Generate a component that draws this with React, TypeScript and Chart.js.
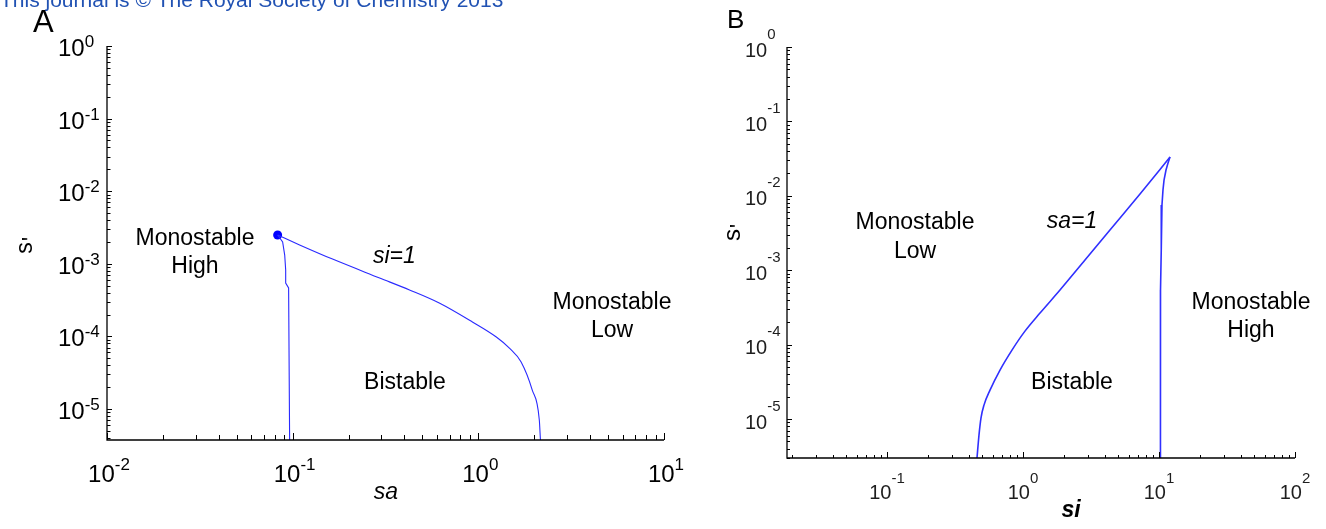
import React, { useEffect, useRef } from 'react';
import { Chart, registerables } from 'chart.js';
Chart.register(...registerables);

const HEADER = 'This journal is © The Royal Society of Chemistry 2013';

// Panel A: si = 1 boundary curves (sa vs s')
const saUpper = [0.083, 0.109, 0.164, 0.294, 0.426, 0.616, 0.929, 1.25, 1.47, 1.7, 1.95, 2.13, 2.16];
const sUpper = [2.49e-3, 1.82e-3, 1.16e-3, 6.37e-4, 4.36e-4, 2.88e-4, 1.58e-4, 9.8e-5, 6.9e-5, 4.44e-5, 1.83e-5, 7.05e-6, 3.74e-6];
const saLower = [0.083, 0.0883, 0.0906, 0.0917, 0.0917, 0.0951, 0.0963];
const sLower = [2.49e-3, 2.0e-3, 1.32e-3, 8.2e-4, 5.44e-4, 4.64e-4, 3.74e-6];
const cuspA = { sa: 0.083, s: 2.49e-3 };

// Panel B: sa = 1 boundary curve (si vs s'), rising branch then falling branch
const siRise = [0.459, 0.4747, 0.491, 0.5166, 0.572, 0.6776, 0.83, 1.034, 1.334, 1.871, 2.857, 4.36, 7.25, 12.05];
const sRise = [3e-6, 6.1e-6, 1.03e-5, 1.54e-5, 2.45e-5, 4.56e-5, 8.46e-5, 1.52e-4, 2.66e-4, 5.42e-4, 1.37e-3, 3.47e-3, 1.06e-2, 3.32e-2];
const siFall = [12.05, 11.65, 11.26, 10.89, 10.7, 10.52, 10.43, 10.35, 10.26, 10.25];
const sFall = [3.32e-2, 2.76e-2, 2.22e-2, 1.63e-2, 1.2e-2, 7.52e-3, 4.05e-3, 1.87e-3, 5.42e-4, 3e-6];

// Tick exponents (labels 10^e)
const aXExps = ['-2', '-1', '0', '1'];
const aYExps = ['0', '-1', '-2', '-3', '-4', '-5'];
const bXExps = ['-1', '0', '1', '2'];
const bYExps = ['0', '-1', '-2', '-3', '-4', '-5'];

const FF = '"Liberation Sans", Arial, Helvetica, sans-serif';

type TextItem = { text: string; x: number; y: number; font: string; align: CanvasTextAlign; color?: string };

interface PanelCfg {
  offsetX: number;
  xExps: string[];
  yExps: string[];
  mainFont: string;
  supFont: string;
  labelColor: string;
  xLabelBase: number;
  xLabelShift: number;
  xRaise: number;
  yLabelLeft: number;
  yLabelShift: number;
  yRaise: number;
  xMajor: number;
  xMinor: number;
  yMajor: number;
  yMinor: number;
  axisWidth: number;
  texts: TextItem[];
  yTitle: { x: number; y: number; font: string; aposFont: string; aposDx: number; aposDy: number };
}

function drawPow(ctx: CanvasRenderingContext2D, exp: string, x: number, baseline: number, cfg: PanelCfg, center: boolean) {
  ctx.font = cfg.mainFont;
  const w1 = ctx.measureText('10').width;
  ctx.font = cfg.supFont;
  const w2 = ctx.measureText(exp).width;
  const start = center ? x - (w1 + w2) / 2 : x;
  ctx.textAlign = 'left';
  ctx.textBaseline = 'alphabetic';
  ctx.fillStyle = cfg.labelColor;
  ctx.font = cfg.mainFont;
  ctx.fillText('10', start, baseline);
  ctx.font = cfg.supFont;
  ctx.fillText(exp, start + w1, baseline - (center ? cfg.xRaise : cfg.yRaise));
}

function makePlugin(cfg: PanelCfg) {
  return {
    id: 'matlabAxes' + cfg.offsetX,
    afterDraw(chart: any) {
      const ctx: CanvasRenderingContext2D = chart.ctx;
      const xs = chart.scales.x;
      const ys = chart.scales.y;
      const { left, right, top, bottom } = chart.chartArea;
      const ox = cfg.offsetX;
      ctx.save();
      ctx.strokeStyle = '#000';
      ctx.lineWidth = 1;
      // x ticks (inward)
      for (let e = Math.floor(Math.log10(xs.min)); e <= Math.ceil(Math.log10(xs.max)); e++) {
        for (let m = 1; m <= 9; m++) {
          const v = m * Math.pow(10, e);
          if (v < xs.min * 0.9999 || v > xs.max * 1.0001) continue;
          const px = Math.round(xs.getPixelForValue(v)) + 0.5;
          const len = m === 1 ? cfg.xMajor : cfg.xMinor;
          ctx.beginPath();
          ctx.moveTo(px, bottom);
          ctx.lineTo(px, bottom - len);
          ctx.stroke();
        }
      }
      // y ticks (inward)
      for (let e = Math.floor(Math.log10(ys.min)); e <= Math.ceil(Math.log10(ys.max)); e++) {
        for (let m = 1; m <= 9; m++) {
          const v = m * Math.pow(10, e);
          if (v < ys.min * 0.9999 || v > ys.max * 1.0001) continue;
          const py = Math.round(ys.getPixelForValue(v)) + 0.5;
          const len = m === 1 ? cfg.yMajor : cfg.yMinor;
          ctx.beginPath();
          ctx.moveTo(left, py);
          ctx.lineTo(left + len, py);
          ctx.stroke();
        }
      }
      // axis lines
      ctx.lineWidth = cfg.axisWidth;
      ctx.beginPath();
      ctx.moveTo(left, top);
      ctx.lineTo(left, bottom);
      ctx.lineTo(right, bottom);
      ctx.stroke();
      // tick labels
      cfg.xExps.forEach((e) => {
        const px = xs.getPixelForValue(Math.pow(10, Number(e)));
        drawPow(ctx, e, px + cfg.xLabelShift, cfg.xLabelBase, cfg, true);
      });
      cfg.yExps.forEach((e) => {
        const py = ys.getPixelForValue(Math.pow(10, Number(e)));
        drawPow(ctx, e, cfg.yLabelLeft - ox, py + cfg.yLabelShift, cfg, false);
      });
      // y title s'
      const t = cfg.yTitle;
      ctx.save();
      ctx.translate(t.x - ox, t.y);
      ctx.rotate(-Math.PI / 2);
      ctx.fillStyle = '#000';
      ctx.textBaseline = 'alphabetic';
      ctx.textAlign = 'left';
      ctx.font = t.font;
      const ws = ctx.measureText('s').width;
      ctx.fillText('s', -ws / 2 - 2, 0);
      ctx.font = t.aposFont;
      ctx.fillText("'", ws / 2 - 2 + t.aposDx, t.aposDy);
      ctx.restore();
      // free texts
      cfg.texts.forEach((it) => {
        ctx.font = it.font;
        ctx.fillStyle = it.color || '#000';
        ctx.textAlign = it.align;
        ctx.textBaseline = 'alphabetic';
        ctx.fillText(it.text, it.x - ox, it.y);
      });
      ctx.restore();
    },
  };
}

const cfgA: PanelCfg = {
  offsetX: 0,
  xExps: aXExps,
  yExps: aYExps,
  mainFont: `24px ${FF}`,
  supFont: `17px ${FF}`,
  labelColor: '#000',
  xLabelBase: 482,
  xLabelShift: 2,
  xRaise: 12,
  yLabelLeft: 58,
  yLabelShift: 10,
  yRaise: 9,
  xMajor: 7,
  xMinor: 5,
  yMajor: 5,
  yMinor: 3.5,
  axisWidth: 1.3,
  yTitle: { x: 32, y: 246, font: `23px ${FF}`, aposFont: `23px ${FF}`, aposDx: 1, aposDy: 7 },
  texts: [
    { text: HEADER, x: 0, y: 7, font: `21px ${FF}`, align: 'left', color: '#2152b3' },
    { text: 'A', x: 33, y: 31.5, font: `31px ${FF}`, align: 'left' },
    { text: 'Monostable', x: 195, y: 245, font: `23px ${FF}`, align: 'center' },
    { text: 'High', x: 195, y: 273, font: `23px ${FF}`, align: 'center' },
    { text: 'si=1', x: 373, y: 263, font: `italic 23px ${FF}`, align: 'left' },
    { text: 'Monostable', x: 612, y: 309, font: `23px ${FF}`, align: 'center' },
    { text: 'Low', x: 612, y: 337, font: `23px ${FF}`, align: 'center' },
    { text: 'Bistable', x: 405, y: 389, font: `23px ${FF}`, align: 'center' },
    { text: 'sa', x: 386, y: 499, font: `italic 23px ${FF}`, align: 'center' },
  ],
};

const cfgB: PanelCfg = {
  offsetX: 680,
  xExps: bXExps,
  yExps: bYExps,
  mainFont: `20px ${FF}`,
  supFont: `15px ${FF}`,
  labelColor: '#1e1e1e',
  xLabelBase: 499,
  xLabelShift: 0,
  xRaise: 16,
  yLabelLeft: 745,
  yLabelShift: 9.5,
  yRaise: 18,
  xMajor: 6,
  xMinor: 3,
  yMajor: 5,
  yMinor: 3,
  axisWidth: 1.3,
  yTitle: { x: 740, y: 233, font: `24px ${FF}`, aposFont: `22px ${FF}`, aposDx: 1, aposDy: 5 },
  texts: [
    { text: 'B', x: 727, y: 28, font: `26px ${FF}`, align: 'left' },
    { text: 'Monostable', x: 915, y: 229, font: `23px ${FF}`, align: 'center' },
    { text: 'Low', x: 915, y: 258, font: `23px ${FF}`, align: 'center' },
    { text: 'sa=1', x: 1072, y: 228, font: `italic 23px ${FF}`, align: 'center' },
    { text: 'Monostable', x: 1251, y: 309, font: `23px ${FF}`, align: 'center' },
    { text: 'High', x: 1251, y: 337, font: `23px ${FF}`, align: 'center' },
    { text: 'Bistable', x: 1072, y: 389, font: `23px ${FF}`, align: 'center' },
    { text: 'si', x: 1071, y: 517, font: `italic bold 23px ${FF}`, align: 'center' },
  ],
};

function scaleOpts(min: number, max: number, fit: (s: any) => void) {
  return {
    type: 'logarithmic' as const,
    min,
    max,
    grid: { display: false },
    border: { display: false },
    ticks: { display: false },
    title: { display: false },
    afterFit: fit,
  };
}

export default function App() {
  const refA = useRef<HTMLCanvasElement>(null);
  const refB = useRef<HTMLCanvasElement>(null);

  useEffect(() => {
    const lineA = '#2a2aff';
    const chartA = new Chart(refA.current!, {
      type: 'scatter',
      data: {
        datasets: [
          {
            data: saUpper.map((x, i) => ({ x, y: sUpper[i] })),
            showLine: true,
            borderColor: lineA,
            borderWidth: 1.1,
            pointRadius: 0,
            cubicInterpolationMode: 'monotone',
          },
          {
            data: saLower.map((x, i) => ({ x, y: sLower[i] })),
            showLine: true,
            borderColor: lineA,
            borderWidth: 1.1,
            pointRadius: 0,
            tension: 0,
          },
          {
            data: [{ x: cuspA.sa, y: cuspA.s }],
            showLine: false,
            pointRadius: 4.5,
            backgroundColor: '#0000ff',
            borderWidth: 0,
          },
        ],
      },
      options: {
        animation: false,
        responsive: false,
        layout: { padding: { top: 46, right: 56, left: 0, bottom: 0 } },
        plugins: { legend: { display: false }, tooltip: { enabled: false } },
        scales: {
          x: scaleOpts(0.01, 10, (s: any) => { s.height = 89; }),
          y: scaleOpts(3.74e-6, 1, (s: any) => { s.width = 107; }),
        },
      } as any,
      plugins: [makePlugin(cfgA)],
    });

    const lineB = '#3030ff';
    const chartB = new Chart(refB.current!, {
      type: 'scatter',
      data: {
        datasets: [
          {
            data: siRise.map((x, i) => ({ x, y: sRise[i] })),
            showLine: true,
            borderColor: lineB,
            borderWidth: 1.6,
            pointRadius: 0,
            cubicInterpolationMode: 'monotone',
          },
          {
            data: siFall.map((x, i) => ({ x, y: sFall[i] })),
            showLine: true,
            borderColor: lineB,
            borderWidth: 1.6,
            pointRadius: 0,
            tension: 0,
          },
        ],
      },
      options: {
        animation: false,
        responsive: false,
        layout: { padding: { top: 47, right: 31, left: 0, bottom: 0 } },
        plugins: { legend: { display: false }, tooltip: { enabled: false } },
        scales: {
          x: scaleOpts(0.0184, 100, (s: any) => { s.height = 71; }),
          y: scaleOpts(3e-6, 1, (s: any) => { s.width = 107; }),
        },
      } as any,
      plugins: [makePlugin(cfgB)],
    });

    return () => {
      chartA.destroy();
      chartB.destroy();
    };
  }, []);

  return (
    <div style={{ position: 'fixed', left: 0, top: 0, width: 1326, height: 529, background: '#fff', overflow: 'hidden' }}>
      <canvas ref={refA} width={720} height={529} style={{ position: 'absolute', left: 0, top: 0, width: 720, height: 529 }} />
      <canvas ref={refB} width={646} height={529} style={{ position: 'absolute', left: 680, top: 0, width: 646, height: 529 }} />
    </div>
  );
}
